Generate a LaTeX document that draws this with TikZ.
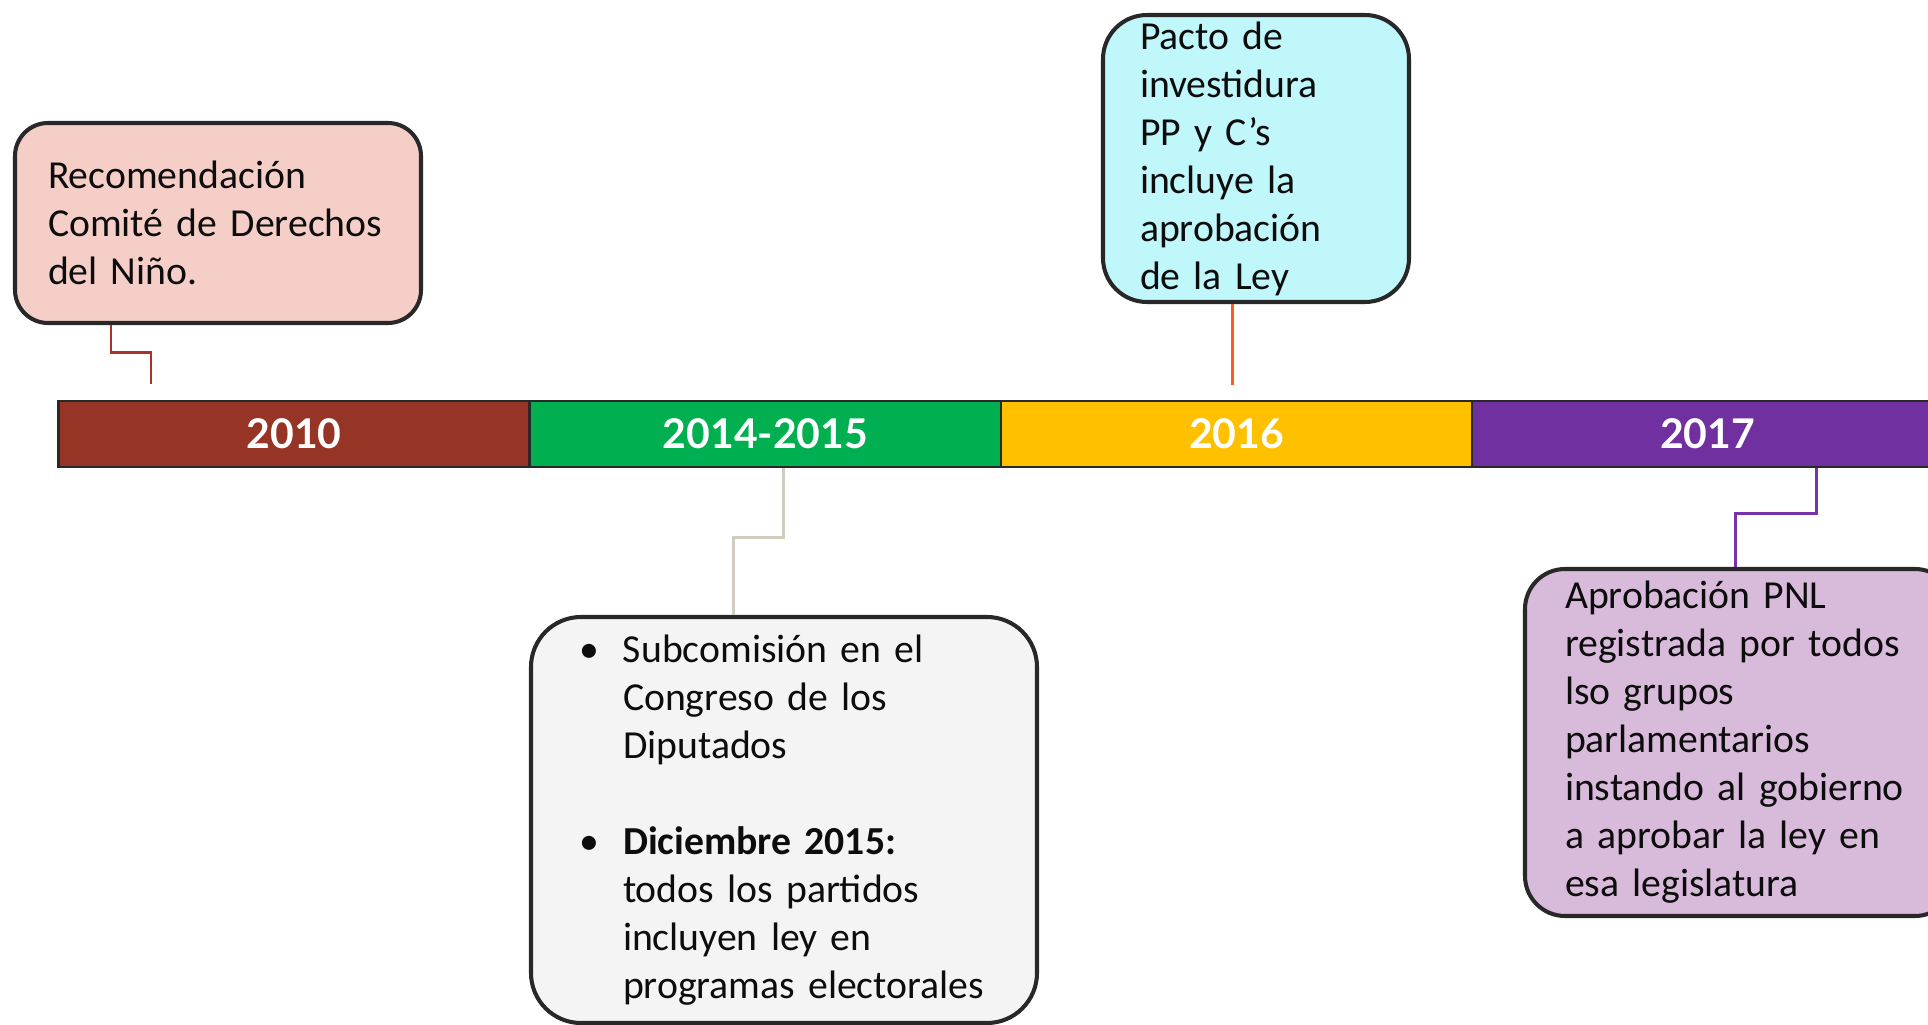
\documentclass[tikz,border=0pt]{standalone}
\usepackage{fontspec}
\setmainfont{Carlito}
\newfontfamily\yearfont{Lato}
\usepackage{xcolor}
\usepackage{tikz}

\definecolor{c2010}{RGB}{150,52,38}
\definecolor{c1415}{RGB}{0,176,80}
\definecolor{c2016}{RGB}{255,192,0}
\definecolor{c2017}{RGB}{112,48,160}
\definecolor{fill2010}{RGB}{245,206,200}
\definecolor{fill1415}{RGB}{244,244,244}
\definecolor{fill2016}{RGB}{192,247,251}
\definecolor{fill2017}{RGB}{216,186,218}
\definecolor{line2010}{RGB}{170,50,40}
\definecolor{line1415}{RGB}{208,205,192}
\definecolor{line2016}{RGB}{255,90,30}
\definecolor{line2017}{RGB}{120,50,170}
\definecolor{edge}{RGB}{40,40,40}

\tikzset{
  seg/.style={rectangle,draw=edge,line width=1.2pt,minimum width=9.42cm,minimum height=1.32cm,
    inner sep=0pt,text=white,font=\yearfont\bfseries\fontsize{23.3}{28}\selectfont},
  note/.style={rectangle,draw=edge,line width=2.3pt,align=left,inner ysep=0pt,text=black!95,
    font=\fontsize{22.6}{27.3}\selectfont},
  link/.style={line width=1.7pt}
}

\begin{document}
\begin{tikzpicture}
\useasboundingbox (0,0) rectangle (38.56,20.48);
% time bar
\node (y2010) at ( 5.88,11.80) [seg,fill=c2010] {2010};
\node (y1415) at (15.31,11.80) [seg,fill=c1415] {2014-2015};
\node (y2016) at (24.73,11.80) [seg,fill=c2016] {2016};
\node (y2017) at (34.15,11.80) [seg,fill=c2017] {2017};
% notes
\node (n2010) at ( 4.36,16.02) [note,fill=fill2010,rounded corners=0.66cm,minimum height=4.00cm,
  text width=6.80cm,inner xsep=0.66cm] {Recomendación\\Comité de Derechos\\del Niño.};
\node (n2016) at (25.12,17.31) [note,fill=fill2016,rounded corners=0.88cm,minimum height=5.74cm,
  text width=4.64cm,inner xsep=0.74cm] {Pacto de\\investidura\\PP y C’s\\incluye la\\aprobación\\de la Ley};
\node (n1415) at (15.68, 4.08) [note,fill=fill1415,rounded corners=1.00cm,minimum height=8.12cm,
  text width=8.20cm,inner xsep=0.96cm] {\makebox[0.88cm][l]{\textbullet}Subcomisión en el\\
  \hspace*{0.88cm}Congreso de los\\
  \hspace*{0.88cm}Diputados\\[0.96cm]
  \makebox[0.88cm][l]{\textbullet}\textbf{Diciembre 2015:}\\
  \hspace*{0.88cm}todos los partidos\\
  \hspace*{0.88cm}incluyen ley en\\
  \hspace*{0.88cm}programas electorales};
\node (n2017) at (34.80, 5.63) [note,fill=fill2017,rounded corners=0.80cm,minimum height=6.94cm,
  text width=7.00cm,inner xsep=0.80cm] {Aprobación PNL\\registrada por todos\\lso grupos\\parlamentarios\\instando al gobierno\\a aprobar la ley en\\esa legislatura};
% links
\coordinate (e2010) at ( 3.02,12.80);
\coordinate (e2016) at (24.64,12.78);
\draw [link,line2010] ([xshift=-2.14cm]n2010.south) -- ++(0,-0.54) -| (e2010);
\draw [link,line2016] (n2016.south -| e2016) -- (e2016);
\draw [link,line1415] ([xshift=0.35cm]y1415.south) -- ++(0,-1.38) -| ([xshift=-1.02cm]n1415.north);
\draw [link,line2017] ([xshift=2.17cm]y2017.south) -- ++(0,-0.90) -| ([xshift=-0.10cm]n2017.north);
\end{tikzpicture}
\end{document}
